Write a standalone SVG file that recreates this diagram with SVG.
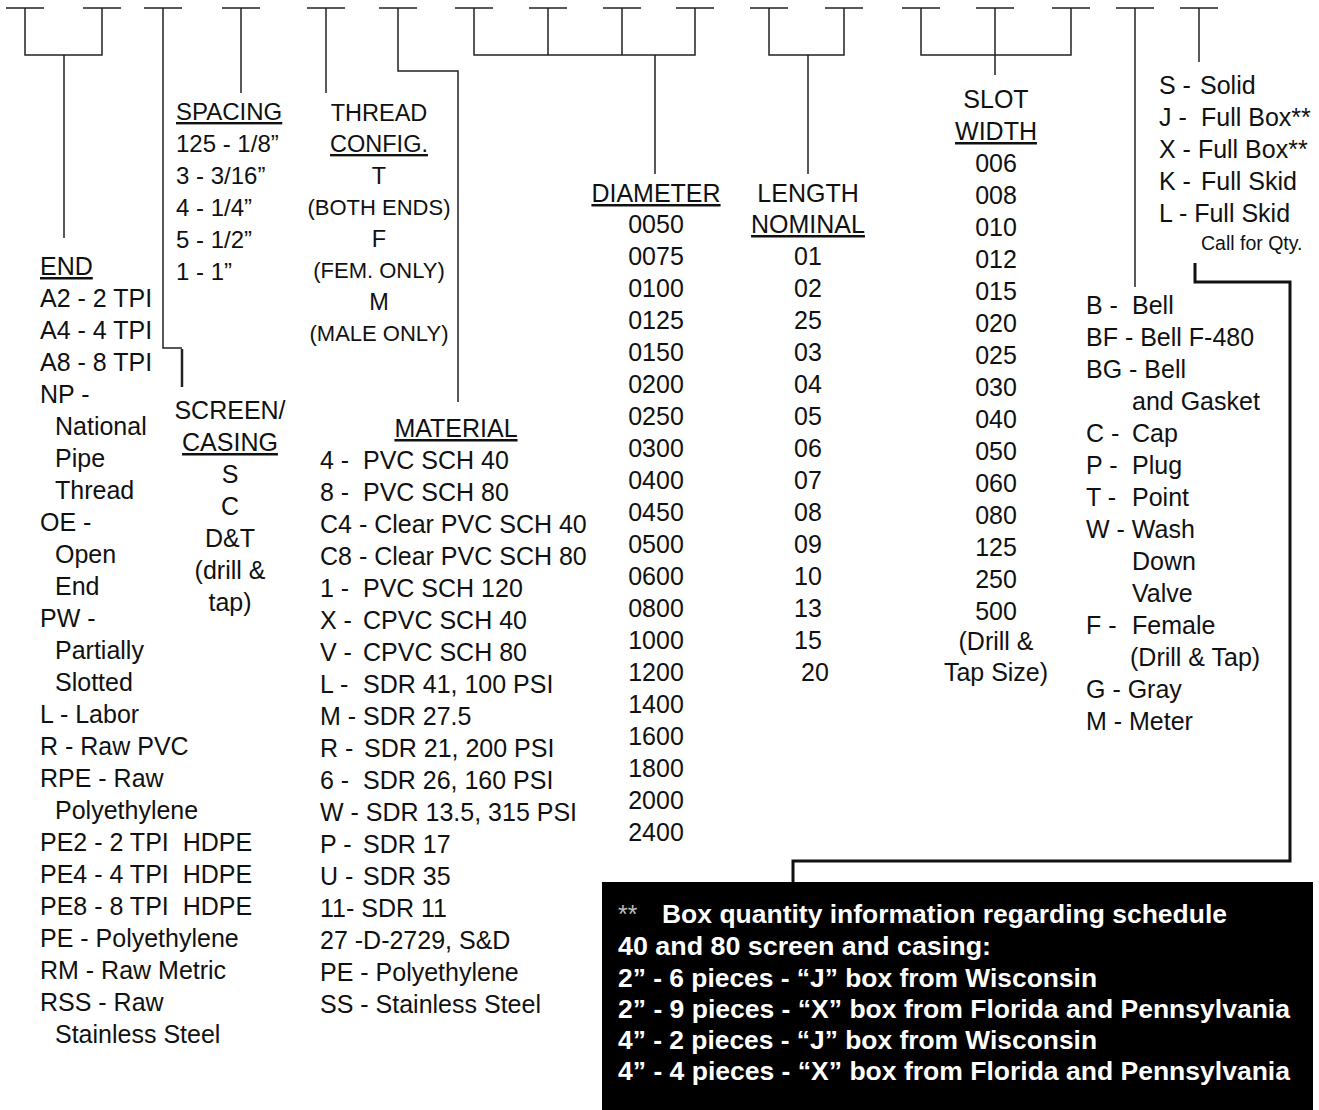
<svg xmlns="http://www.w3.org/2000/svg" width="1319" height="1110" viewBox="0 0 1319 1110" xml:space="preserve">
<style>
text{font-family:"Liberation Sans",Arial,Helvetica,sans-serif;font-size:25px;fill:#111;white-space:pre}
.c{text-anchor:middle}
.u{text-decoration:underline}
.sp{font-size:24px}
.sm{font-size:22px}
.th{font-size:23.5px}
.tiny{font-size:19.5px}
.ln{fill:none;stroke:#222;stroke-width:1.5}
.thick{fill:none;stroke:#111;stroke-width:3}
.bx{font-weight:bold;fill:#fff;font-size:25.5px}
.st{fill:#bbb;font-size:25px}
</style>
<rect width="1319" height="1110" fill="#fff"/>
<g id="connectors">
<path class="ln" d="M6 8H44M83 8H121M144 8H182M222 8H260M307 8H345M379 8H417M455 8H493M529 8H567M603 8H641M676 8H714M750 8H788M825 8H863M902 8H940M976 8H1014M1052 8H1090M1116 8H1154M1180 8H1218"/>
<path class="ln" d="M25 8V55H102V8M64 55V238"/>
<path class="ln" d="M163 8V348H182"/>
<path class="ln" d="M182 349V387" style="stroke-width:2.5"/>
<path class="ln" d="M241 8V93"/>
<path class="ln" d="M326 8V93"/>
<path class="ln" d="M398 8V71H458V402"/>
<path class="ln" d="M474 8V55H695V8M548 8V55M622 8V55M655 55V174"/>
<path class="ln" d="M769 8V55H844V8M808 55V174"/>
<path class="ln" d="M921 8V55H1071V8M995 8V75"/>
<path class="ln" d="M1135 8V287"/>
<path class="ln" d="M1199 8V62"/>
<path class="thick" d="M1195 263V282H1290V861H793V882"/>
</g>
<g id="end">
<text x="40" y="275" class="u">END</text>
<text x="40" y="307">A2 - 2 TPI</text>
<text x="40" y="339">A4 - 4 TPI</text>
<text x="40" y="371">A8 - 8 TPI</text>
<text x="40" y="403">NP -</text>
<text x="55" y="435">National</text>
<text x="55" y="467">Pipe</text>
<text x="55" y="499">Thread</text>
<text x="40" y="531">OE -</text>
<text x="55" y="563">Open</text>
<text x="55" y="595">End</text>
<text x="40" y="627">PW -</text>
<text x="55" y="659">Partially</text>
<text x="55" y="691">Slotted</text>
<text x="40" y="723">L - Labor</text>
<text x="40" y="755">R - Raw PVC</text>
<text x="40" y="787">RPE - Raw</text>
<text x="55" y="819">Polyethylene</text>
<text x="40" y="851">PE2 - 2 TPI  HDPE</text>
<text x="40" y="883">PE4 - 4 TPI  HDPE</text>
<text x="40" y="915">PE8 - 8 TPI  HDPE</text>
<text x="40" y="947">PE - Polyethylene</text>
<text x="40" y="979">RM - Raw Metric</text>
<text x="40" y="1011">RSS - Raw</text>
<text x="55" y="1043">Stainless Steel</text>
</g>
<g id="screen-casing">
<text x="230" y="419" class="c">SCREEN/</text>
<text x="230" y="451" class="c u">CASING</text>
<text x="230" y="483" class="c">S</text>
<text x="230" y="515" class="c">C</text>
<text x="230" y="547" class="c">D&amp;T</text>
<text x="230" y="579" class="c">(drill &amp;</text>
<text x="230" y="611" class="c">tap)</text>
</g>
<g id="spacing">
<text x="176" y="120" class="u sp">SPACING</text>
<text x="176" y="152" class="sp">125 - 1/8”</text>
<text x="176" y="184" class="sp">3 - 3/16”</text>
<text x="176" y="216" class="sp">4 - 1/4”</text>
<text x="176" y="248" class="sp">5 - 1/2”</text>
<text x="176" y="280" class="sp">1 - 1”</text>
</g>
<g id="thread-config">
<text x="379" y="121" class="c th">THREAD</text>
<text x="379" y="152" class="c th u">CONFIG.</text>
<text x="379" y="184" class="c th">T</text>
<text x="379" y="215" class="c sm">(BOTH ENDS)</text>
<text x="379" y="247" class="c th">F</text>
<text x="379" y="278" class="c sm">(FEM. ONLY)</text>
<text x="379" y="310" class="c th">M</text>
<text x="379" y="341" class="c sm">(MALE ONLY)</text>
</g>
<g id="material">
<text x="456" y="437" class="c u">MATERIAL</text>
<text x="320" y="469">4 -<tspan x="363">PVC SCH 40</tspan></text>
<text x="320" y="501">8 -<tspan x="363">PVC SCH 80</tspan></text>
<text x="320" y="533">C4 - Clear PVC SCH 40</text>
<text x="320" y="565">C8 - Clear PVC SCH 80</text>
<text x="320" y="597">1 -<tspan x="363">PVC SCH 120</tspan></text>
<text x="320" y="629">X -<tspan x="363">CPVC SCH 40</tspan></text>
<text x="320" y="661">V -<tspan x="363">CPVC SCH 80</tspan></text>
<text x="320" y="693">L -<tspan x="363">SDR 41, 100 PSI</tspan></text>
<text x="320" y="725">M - SDR 27.5</text>
<text x="320" y="757">R -<tspan x="364">SDR 21, 200 PSI</tspan></text>
<text x="320" y="789">6 -<tspan x="363">SDR 26, 160 PSI</tspan></text>
<text x="320" y="821">W - SDR 13.5, 315 PSI</text>
<text x="320" y="853">P -<tspan x="363">SDR 17</tspan></text>
<text x="320" y="885">U -<tspan x="363">SDR 35</tspan></text>
<text x="320" y="917">11- SDR 11</text>
<text x="320" y="949">27 -D-2729, S&amp;D</text>
<text x="320" y="981">PE - Polyethylene</text>
<text x="320" y="1013">SS - Stainless Steel</text>
</g>
<g id="diameter">
<text x="656" y="202" class="c u">DIAMETER</text>
<text x="656" y="233" class="c">0050</text>
<text x="656" y="265" class="c">0075</text>
<text x="656" y="297" class="c">0100</text>
<text x="656" y="329" class="c">0125</text>
<text x="656" y="361" class="c">0150</text>
<text x="656" y="393" class="c">0200</text>
<text x="656" y="425" class="c">0250</text>
<text x="656" y="457" class="c">0300</text>
<text x="656" y="489" class="c">0400</text>
<text x="656" y="521" class="c">0450</text>
<text x="656" y="553" class="c">0500</text>
<text x="656" y="585" class="c">0600</text>
<text x="656" y="617" class="c">0800</text>
<text x="656" y="649" class="c">1000</text>
<text x="656" y="681" class="c">1200</text>
<text x="656" y="713" class="c">1400</text>
<text x="656" y="745" class="c">1600</text>
<text x="656" y="777" class="c">1800</text>
<text x="656" y="809" class="c">2000</text>
<text x="656" y="841" class="c">2400</text>
</g>
<g id="length">
<text x="808" y="202" class="c">LENGTH</text>
<text x="808" y="233" class="c u">NOMINAL</text>
<text x="808" y="265" class="c">01</text>
<text x="808" y="297" class="c">02</text>
<text x="808" y="329" class="c">25</text>
<text x="808" y="361" class="c">03</text>
<text x="808" y="393" class="c">04</text>
<text x="808" y="425" class="c">05</text>
<text x="808" y="457" class="c">06</text>
<text x="808" y="489" class="c">07</text>
<text x="808" y="521" class="c">08</text>
<text x="808" y="553" class="c">09</text>
<text x="808" y="585" class="c">10</text>
<text x="808" y="617" class="c">13</text>
<text x="808" y="649" class="c">15</text>
<text x="815" y="681" class="c">20</text>
</g>
<g id="slot-width">
<text x="996" y="108" class="c">SLOT</text>
<text x="996" y="140" class="c u">WIDTH</text>
<text x="996" y="172" class="c">006</text>
<text x="996" y="204" class="c">008</text>
<text x="996" y="236" class="c">010</text>
<text x="996" y="268" class="c">012</text>
<text x="996" y="300" class="c">015</text>
<text x="996" y="332" class="c">020</text>
<text x="996" y="364" class="c">025</text>
<text x="996" y="396" class="c">030</text>
<text x="996" y="428" class="c">040</text>
<text x="996" y="460" class="c">050</text>
<text x="996" y="492" class="c">060</text>
<text x="996" y="524" class="c">080</text>
<text x="996" y="556" class="c">125</text>
<text x="996" y="588" class="c">250</text>
<text x="996" y="620" class="c">500</text>
<text x="996" y="650" class="c">(Drill &amp;</text>
<text x="996" y="681" class="c">Tap Size)</text>
</g>
<g id="fittings">
<text x="1086" y="314">B -<tspan x="1132">Bell</tspan></text>
<text x="1086" y="346">BF - Bell F-480</text>
<text x="1086" y="378">BG - Bell</text>
<text x="1132" y="410">and Gasket</text>
<text x="1086" y="442">C -<tspan x="1132">Cap</tspan></text>
<text x="1086" y="474">P -<tspan x="1132">Plug</tspan></text>
<text x="1086" y="506">T -<tspan x="1132">Point</tspan></text>
<text x="1086" y="538">W - Wash</text>
<text x="1132" y="570">Down</text>
<text x="1132" y="602">Valve</text>
<text x="1086" y="634">F -<tspan x="1132">Female</tspan></text>
<text x="1130" y="666">(Drill &amp; Tap)</text>
<text x="1086" y="698">G - Gray</text>
<text x="1086" y="730">M - Meter</text>
</g>
<g id="packaging">
<text x="1159" y="94">S -<tspan x="1200">Solid</tspan></text>
<text x="1159" y="126">J -<tspan x="1201">Full Box**</tspan></text>
<text x="1159" y="158">X - Full Box**</text>
<text x="1159" y="190">K -<tspan x="1201">Full Skid</tspan></text>
<text x="1159" y="222">L - Full Skid</text>
<text x="1201" y="250" class="tiny">Call for Qty.</text>
</g>
<g id="box-note">
<rect x="602" y="882" width="711" height="228" fill="#000"/>
<text x="618" y="923" class="st">**</text>
<text x="662" y="923" class="bx" textLength="565" lengthAdjust="spacingAndGlyphs">Box quantity information regarding schedule</text>
<text x="618" y="955" class="bx" textLength="373" lengthAdjust="spacingAndGlyphs">40 and 80 screen and casing:</text>
<text x="618" y="987" class="bx" textLength="479" lengthAdjust="spacingAndGlyphs">2” - 6 pieces - “J” box from Wisconsin</text>
<text x="618" y="1018" class="bx" textLength="672" lengthAdjust="spacingAndGlyphs">2” - 9 pieces - “X” box from Florida and Pennsylvania</text>
<text x="618" y="1049" class="bx" textLength="479" lengthAdjust="spacingAndGlyphs">4” - 2 pieces - “J” box from Wisconsin</text>
<text x="618" y="1080" class="bx" textLength="672" lengthAdjust="spacingAndGlyphs">4” - 4 pieces - “X” box from Florida and Pennsylvania</text>
</g>
</svg>
